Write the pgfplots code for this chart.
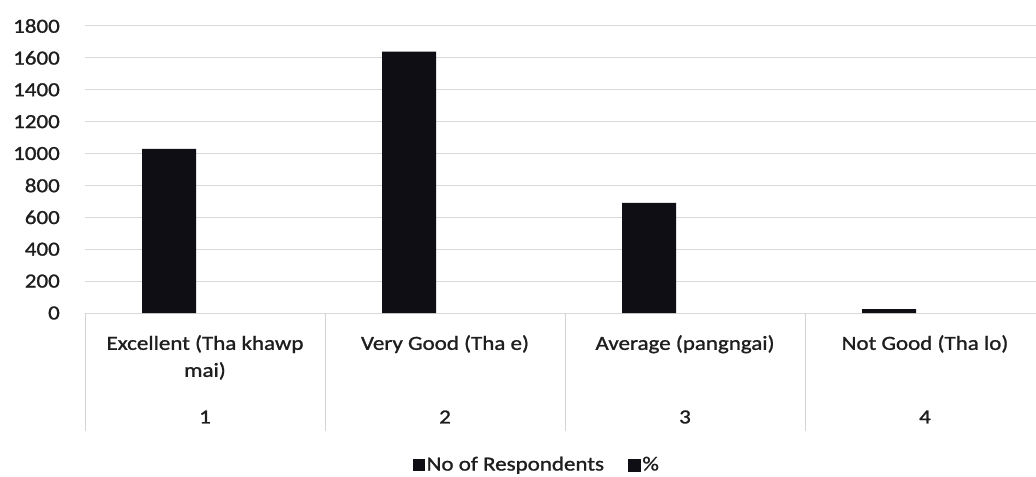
\documentclass[border=0pt]{standalone}
\usepackage{fontspec}
\setmainfont{Carlito}[FakeStretch=1.15, FakeBold=1.2]
\usepackage{pgfplots}
\pgfplotsset{compat=1.18}
\definecolor{barc}{RGB}{14,14,20}
\definecolor{gridc}{RGB}{217,217,217}
\definecolor{sepc}{RGB}{212,212,212}
\definecolor{txt}{RGB}{30,30,30}
\begin{document}
\fontsize{20bp}{27bp}\selectfont
\begin{tikzpicture}
\begin{axis}[
  at={(85bp,164bp)}, anchor=south west,
  scale only axis, width=951bp, height=287bp,
  xmin=0.5, xmax=4.4625, ymin=0, ymax=1800,
  ytick={0,200,...,1800},
  xtick={1,2,3,4},
  xticklabels={{Excellent (Tha khawp\\mai)},{Very Good (Tha e)},{Average (pangngai)},{Not Good (Tha lo)}},
  xticklabel style={align=center, anchor=north, inner sep=0pt, yshift=-22bp, text=txt},
  yticklabel style={anchor=east, inner sep=0pt, xshift=-25bp, text=txt},
  /pgf/number format/assume math mode=true,
  /pgf/number format/set thousands separator={},
  major tick length=0pt,
  tick style={draw=none},
  ymajorgrids, grid style={gridc, line width=1bp},
  axis line style={draw=none},
  clip=false,
  legend style={at={(0.475,-0.53)}, anchor=center, legend columns=2, draw=none, fill=none,
    /tikz/every even column/.append style={column sep=22bp},
    nodes={inner sep=2bp, text=txt}},
  legend image code/.code={\fill[barc] (0bp,-6bp) rectangle (12bp,6bp);},
]
\addplot[ybar, bar width=54bp, bar shift=-36bp, fill=barc, draw=none] coordinates {(1,1030) (2,1640) (3,690) (4,25)};
\addlegendentry{No of Respondents}
\addlegendimage{barc, fill=barc}
\addlegendentry{\%}
\pgfplotsinvokeforeach{0.5,1.5,2.5,3.5}{\draw[sepc, line width=1bp] (axis cs:#1,0) -- ([yshift=-118bp]axis cs:#1,0);}
\pgfplotsinvokeforeach{1,2,3,4}{\node[text=txt] at (axis cs:#1,0) [yshift=-104bp] {#1};}
\end{axis}
\pgfresetboundingbox
\useasboundingbox (0,0) rectangle (1036bp,477bp);
\end{tikzpicture}
\end{document}
